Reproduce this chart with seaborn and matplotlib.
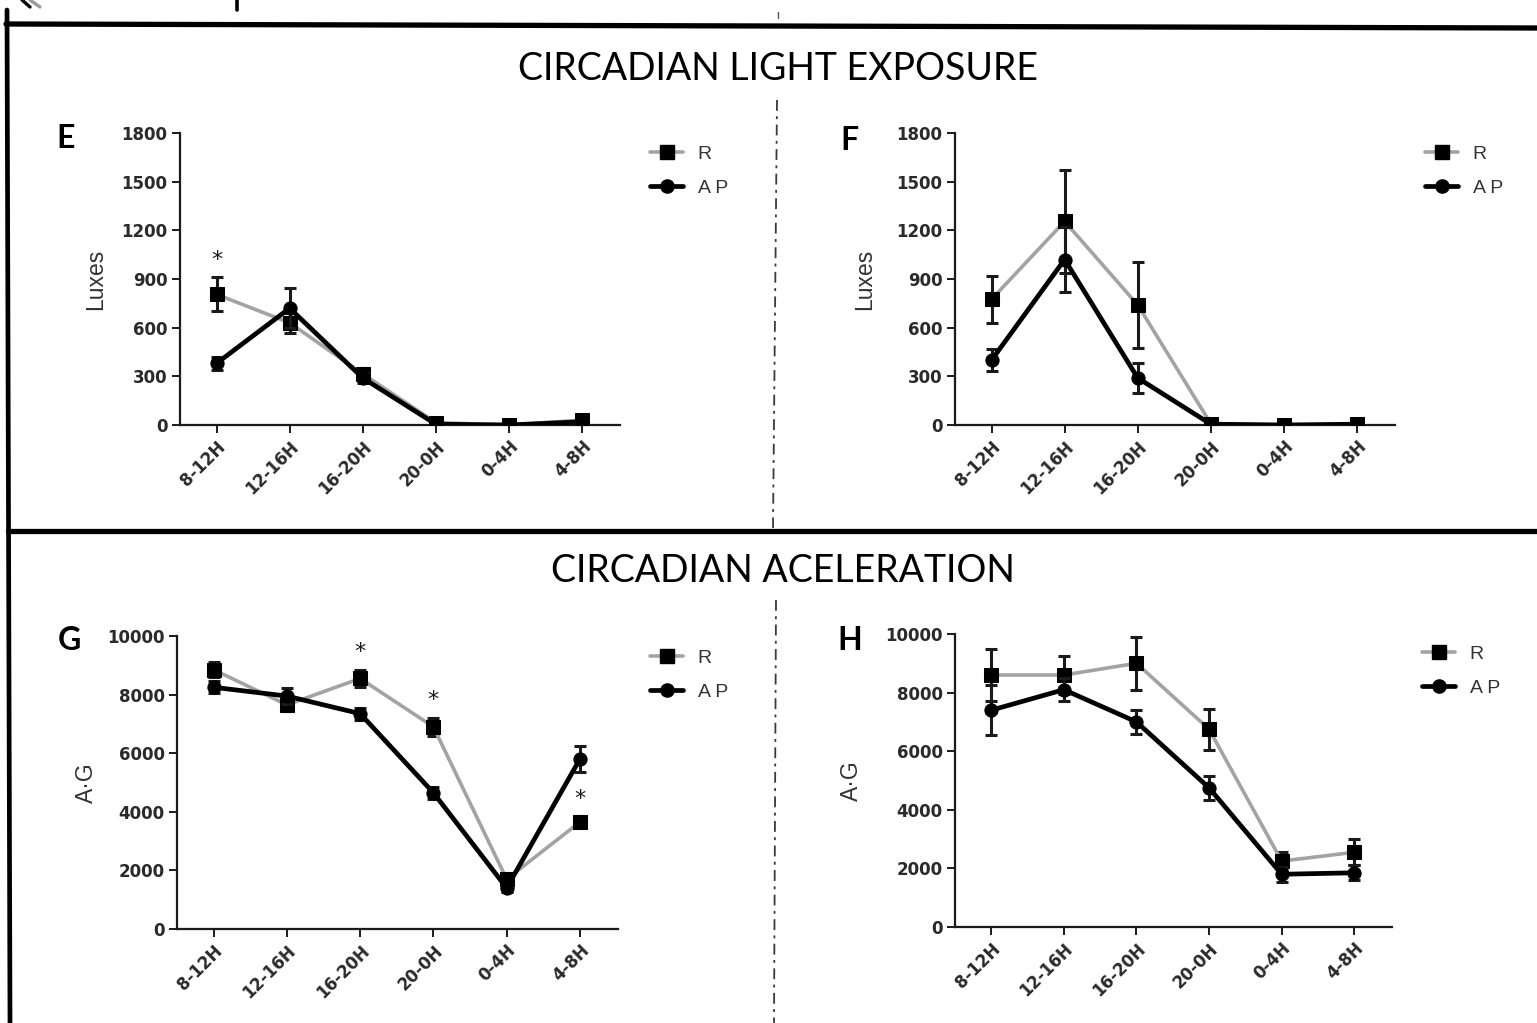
import matplotlib
matplotlib.use("Agg")
import matplotlib.pyplot as plt
from matplotlib.lines import Line2D
import pandas as pd
import seaborn as sns

# ---- data -------------------------------------------------------------
periods = ["8-12H", "12-16H", "16-20H", "20-0H", "0-4H", "4-8H"]

# E: circadian light exposure (luxes)
light_e_r = [805, 630, 315, 15, 0, 30]
light_e_r_sem = [105, 60, 35, 8, 3, 10]
light_e_ap = [380, 720, 290, 5, 0, 20]
light_e_ap_sem = [40, 125, 30, 5, 3, 8]
stars_e = [0]

# F: circadian light exposure (luxes)
light_f_r = [775, 1255, 740, 8, 0, 5]
light_f_r_sem = [145, 320, 265, 5, 3, 5]
light_f_ap = [400, 1020, 290, 5, 0, 5]
light_f_ap_sem = [70, 200, 90, 5, 3, 5]
stars_f = []

# G: circadian acceleration (A·G)
acc_g_r = [8850, 7650, 8550, 6900, 1700, 3650]
acc_g_r_sem = [250, 200, 300, 300, 200, 200]
acc_g_ap = [8250, 7950, 7350, 4650, 1400, 5800]
acc_g_ap_sem = [200, 280, 200, 200, 150, 450]
stars_g = [2, 3, 5]

# H: circadian acceleration (A·G)
acc_h_r = [8600, 8600, 9000, 6750, 2250, 2550]
acc_h_r_sem = [900, 650, 900, 700, 300, 450]
acc_h_ap = [7400, 8100, 7000, 4750, 1800, 1850]
acc_h_ap_sem = [850, 400, 400, 400, 250, 250]
stars_h = []

light_ticks = [0, 300, 600, 900, 1200, 1500, 1800]
acc_ticks = [0, 2000, 4000, 6000, 8000, 10000]

group_names = ["R", "A P"]

# ---- style ------------------------------------------------------------
sns.set_style("ticks")
plt.rcParams["font.family"] = ["DejaVu Sans"]

W, H = 1537, 1023
fig = plt.figure(figsize=(W / 100, H / 100), dpi=100)

GREY = "#a3a3a3"
INK = "#1a1a1a"
TICK_TXT = "#2a2a2a"
MS = 9.5


def px_rect(left, top, right, bottom):
    return [left / W, 1 - bottom / H, (right - left) / W, (bottom - top) / H]


def fig_xy(x, y):
    return x / W, 1 - y / H


def panel(rect, r, r_sem, ap, ap_sem, ymax, yticks, ylabel, ylabel_x,
          letter, letter_px, legend_px, stars):
    ax = fig.add_axes(rect)
    df = pd.DataFrame({
        "pos": list(range(len(periods))) * 2,
        "value": list(r) + list(ap),
        "sem": list(r_sem) + list(ap_sem),
        "group": [group_names[0]] * len(periods) + [group_names[1]] * len(periods),
    })
    styles = {
        "R": dict(color=GREY, marker="s", lw=2.6, z=2),
        "A P": dict(color="black", marker="o", lw=3.4, z=3),
    }
    for g in group_names:
        sub = df[df["group"] == g]
        st = styles[g]
        ax.errorbar(sub["pos"], sub["value"], yerr=sub["sem"], fmt="none",
                    ecolor=INK, elinewidth=2.2, capsize=4.5, capthick=2.2,
                    zorder=st["z"])
        sns.lineplot(data=sub, x="pos", y="value", ax=ax, color=st["color"],
                     marker=st["marker"], markersize=MS,
                     markerfacecolor="black", markeredgecolor="black",
                     linewidth=st["lw"], errorbar=None, legend=False,
                     zorder=st["z"])

    ax.set_xlim(-0.5, 5.52)
    ax.set_ylim(0, ymax)
    ax.set_xticks(range(len(periods)))
    ax.set_xticklabels(periods, rotation=45, ha="right", va="top",
                       rotation_mode="anchor")
    ax.set_yticks(yticks)
    ax.set_xlabel("")
    ax.set_ylabel(ylabel, family="Liberation Sans", fontsize=16.5,
                  color="#333333")
    ax.yaxis.set_label_coords(ylabel_x, 0.5)
    for lab in ax.get_xticklabels() + ax.get_yticklabels():
        lab.set_fontweight("bold")
        lab.set_fontsize(12)
        lab.set_color(TICK_TXT)
    ax.tick_params(axis="both", length=6, width=1.4, color=INK, pad=3)
    sns.despine(ax=ax)
    for s in ("left", "bottom"):
        ax.spines[s].set_linewidth(1.6)
        ax.spines[s].set_color(INK)
        ax.spines[s].set_clip_on(False)

    # significance marks
    off = 0.06 * ymax
    for i in stars:
        ax.text(i, r[i] + r_sem[i] + off, "*", ha="center", va="center",
                fontsize=16, color=INK)

    # panel letter
    fig.text(*fig_xy(*letter_px), letter, family="Lato", fontsize=23,
             fontweight="bold", ha="center", va="center", color="black")

    # legend outside the plot area
    handles = [
        Line2D([], [], color=GREY, lw=2.6, marker="s", markersize=MS,
               markerfacecolor="black", markeredgecolor="black"),
        Line2D([], [], color="black", lw=3.4, marker="o", markersize=MS,
               markerfacecolor="black", markeredgecolor="black"),
    ]
    ax.legend(handles, group_names, loc="upper left",
              bbox_to_anchor=fig_xy(*legend_px),
              bbox_transform=fig.transFigure, frameon=False,
              borderpad=0, borderaxespad=0, handlelength=1.7,
              handletextpad=0.75, labelspacing=0.85,
              prop={"family": "Liberation Sans", "size": 14},
              labelcolor="#333333")
    return ax


panel(px_rect(180, 133, 620, 425), light_e_r, light_e_r_sem, light_e_ap,
      light_e_ap_sem, 1800, light_ticks, "Luxes", -0.165,
      "E", (66, 138), (650, 145), stars_e)
panel(px_rect(955, 133, 1395, 425), light_f_r, light_f_r_sem, light_f_ap,
      light_f_ap_sem, 1800, light_ticks, "Luxes", -0.18,
      "F", (849, 140), (1425, 145), stars_f)
panel(px_rect(177, 636, 618, 929), acc_g_r, acc_g_r_sem, acc_g_ap,
      acc_g_ap_sem, 10000, acc_ticks, "A·G", -0.18,
      "G", (69, 640), (650, 649), stars_g)
panel(px_rect(955, 634, 1392, 927), acc_h_r, acc_h_r_sem, acc_h_ap,
      acc_h_ap_sem, 10000, acc_ticks, "A·G", -0.21,
      "H", (850, 640), (1422, 645), stars_h)

# section titles
fig.text(*fig_xy(778, 69), "CIRCADIAN LIGHT EXPOSURE", family="Lato",
         fontsize=27, ha="center", va="center", color="black")
fig.text(*fig_xy(783, 571), "CIRCADIAN ACELERATION", family="Lato",
         fontsize=27, ha="center", va="center", color="black")


# frame lines separating the figure sections
def fig_line(x0, y0, x1, y1, **kw):
    (fx0, fy0), (fx1, fy1) = fig_xy(x0, y0), fig_xy(x1, y1)
    fig.add_artist(Line2D([fx0, fx1], [fy0, fy1], transform=fig.transFigure,
                          **kw))


fig_line(6, 24, W, 28, color="black", lw=3.8)
fig_line(8, 531, W, 531, color="black", lw=3.8)
fig_line(7, 10, 10, H, color="black", lw=3.4)
fig_line(777, 100, 773, 528, color="#3a3a3a", lw=1.3,
         dashes=(6, 3, 1.6, 3))
fig_line(776, 600, 774, H, color="#3a3a3a", lw=1.3,
         dashes=(6, 3, 1.6, 3))
fig_line(778, 12, 778, 18, color="#555555", lw=1.0)
# fragments of the panel above, cut by the page edge
fig_line(237, 0, 237, 10, color="black", lw=2.6)
fig_line(22, 0, 30, 7, color="black", lw=2.4)
fig_line(30, 0, 40, 7, color="#9a9a9a", lw=2.4)

fig.savefig("out.png", dpi=100)
